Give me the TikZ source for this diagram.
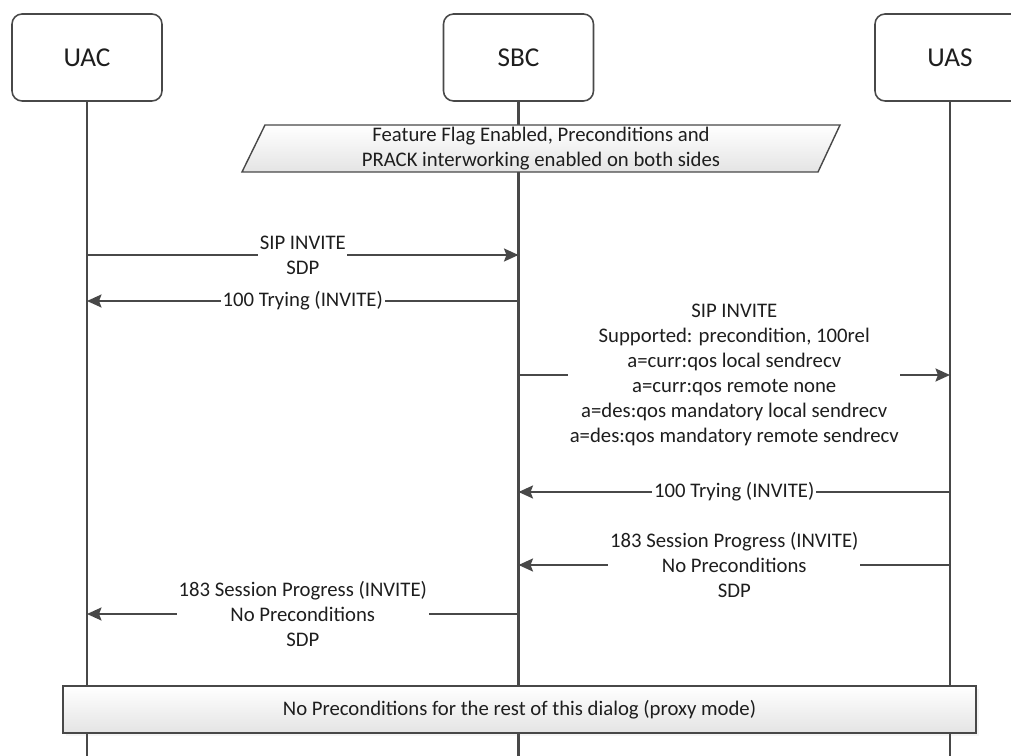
\documentclass[tikz,border=0pt]{standalone}
\usepackage{fontspec}
\setmainfont{Carlito}
\usetikzlibrary{arrows.meta,positioning,shadows}
\definecolor{lineg}{RGB}{72,72,72}
\definecolor{notegray}{RGB}{228,228,228}
\definecolor{txtg}{RGB}{30,30,30}

\begin{document}
\begin{tikzpicture}[x=0.02cm, y=-0.02cm, >={Stealth[length=0.29cm,width=0.26cm,inset=0.05cm]}, node distance=5.6cm,
  font=\fontsize{11.8}{14.2}\selectfont, text=txtg]
  \useasboundingbox (0,0) rectangle (1011,756);
  \clip (0,0) rectangle (1011,756);

  % heads
  \node[draw=lineg, line width=0.9pt, rounded corners=0.2cm, minimum width=3cm, minimum height=1.74cm, font=\fontsize{15.5}{18}\selectfont] (uac) at (87,57.5) {UAC};
  \node[draw=lineg, line width=0.9pt, rounded corners=0.2cm, minimum width=3cm, minimum height=1.74cm, font=\fontsize{15.5}{18}\selectfont, right=of uac] (sbc) {SBC};
  \node[draw=lineg, line width=0.9pt, rounded corners=0.2cm, minimum width=3cm, minimum height=1.74cm, font=\fontsize{15.5}{18}\selectfont, right=of sbc] (uas) {UAS};

  % lifelines
  \draw[lineg, line width=1.35pt] (uac.south) -- (uac.south |- 0,756);
  \draw[lineg, line width=1.35pt] (sbc.south) -- (sbc.south |- 0,756);
  \draw[lineg, line width=1.35pt] (uas.south) -- (uas.south |- 0,756);

  % flag note
  \draw[lineg, line width=0.8pt, top color=white, bottom color=notegray] (265,125) -- (840,125) -- (818,172) -- (242,172) -- cycle;
  \node[align=center] (flag) at (541,148.5) {Feature Flag Enabled, Preconditions and\\PRACK interworking enabled on both sides};

  % messages
  \draw[->, lineg, line width=1.2pt] (uac |- 0,255) -- node[fill=white, inner xsep=1pt, align=center, text=txtg] (inv1) {SIP INVITE\\SDP} (sbc |- 0,255);
  \draw[->, lineg, line width=1.2pt] (sbc |- 0,301) -- node[fill=white, inner xsep=1pt, text=txtg] (try1) {100 Trying (INVITE)} (uac |- 0,301);
  \draw[->, lineg, line width=1.2pt] (sbc |- 0,375) -- node[fill=white, inner xsep=1pt, align=center, text=txtg] (inv2) {SIP INVITE\\Supported: precondition, 100rel\\a=curr:qos local sendrecv\\a=curr:qos remote none\\a=des:qos mandatory local sendrecv\\a=des:qos mandatory remote sendrecv} (uas |- 0,375);
  \draw[->, lineg, line width=1.2pt] (uas |- 0,492) -- node[fill=white, inner xsep=1pt, text=txtg] (try2) {100 Trying (INVITE)} (sbc |- 0,492);
  \draw[->, lineg, line width=1.2pt] (uas |- 0,565) -- node[fill=white, inner xsep=1pt, align=center, text=txtg] (prog2) {183 Session Progress (INVITE)\\No Preconditions\\SDP} (sbc |- 0,565);
  \draw[->, lineg, line width=1.2pt] (sbc |- 0,614) -- node[fill=white, inner xsep=1pt, align=center, text=txtg] (prog1) {183 Session Progress (INVITE)\\No Preconditions\\SDP} (uac |- 0,614);

  % proxy mode note
  \node[draw=lineg, line width=0.8pt, top color=white, bottom color=notegray, minimum width=18.26cm, minimum height=0.94cm,
    drop shadow={opacity=0.08, shadow xshift=1.5pt, shadow yshift=-1.5pt}] (rest) at (519.5,709.5) {No Preconditions for the rest of this dialog (proxy mode)};
\end{tikzpicture}
\end{document}
